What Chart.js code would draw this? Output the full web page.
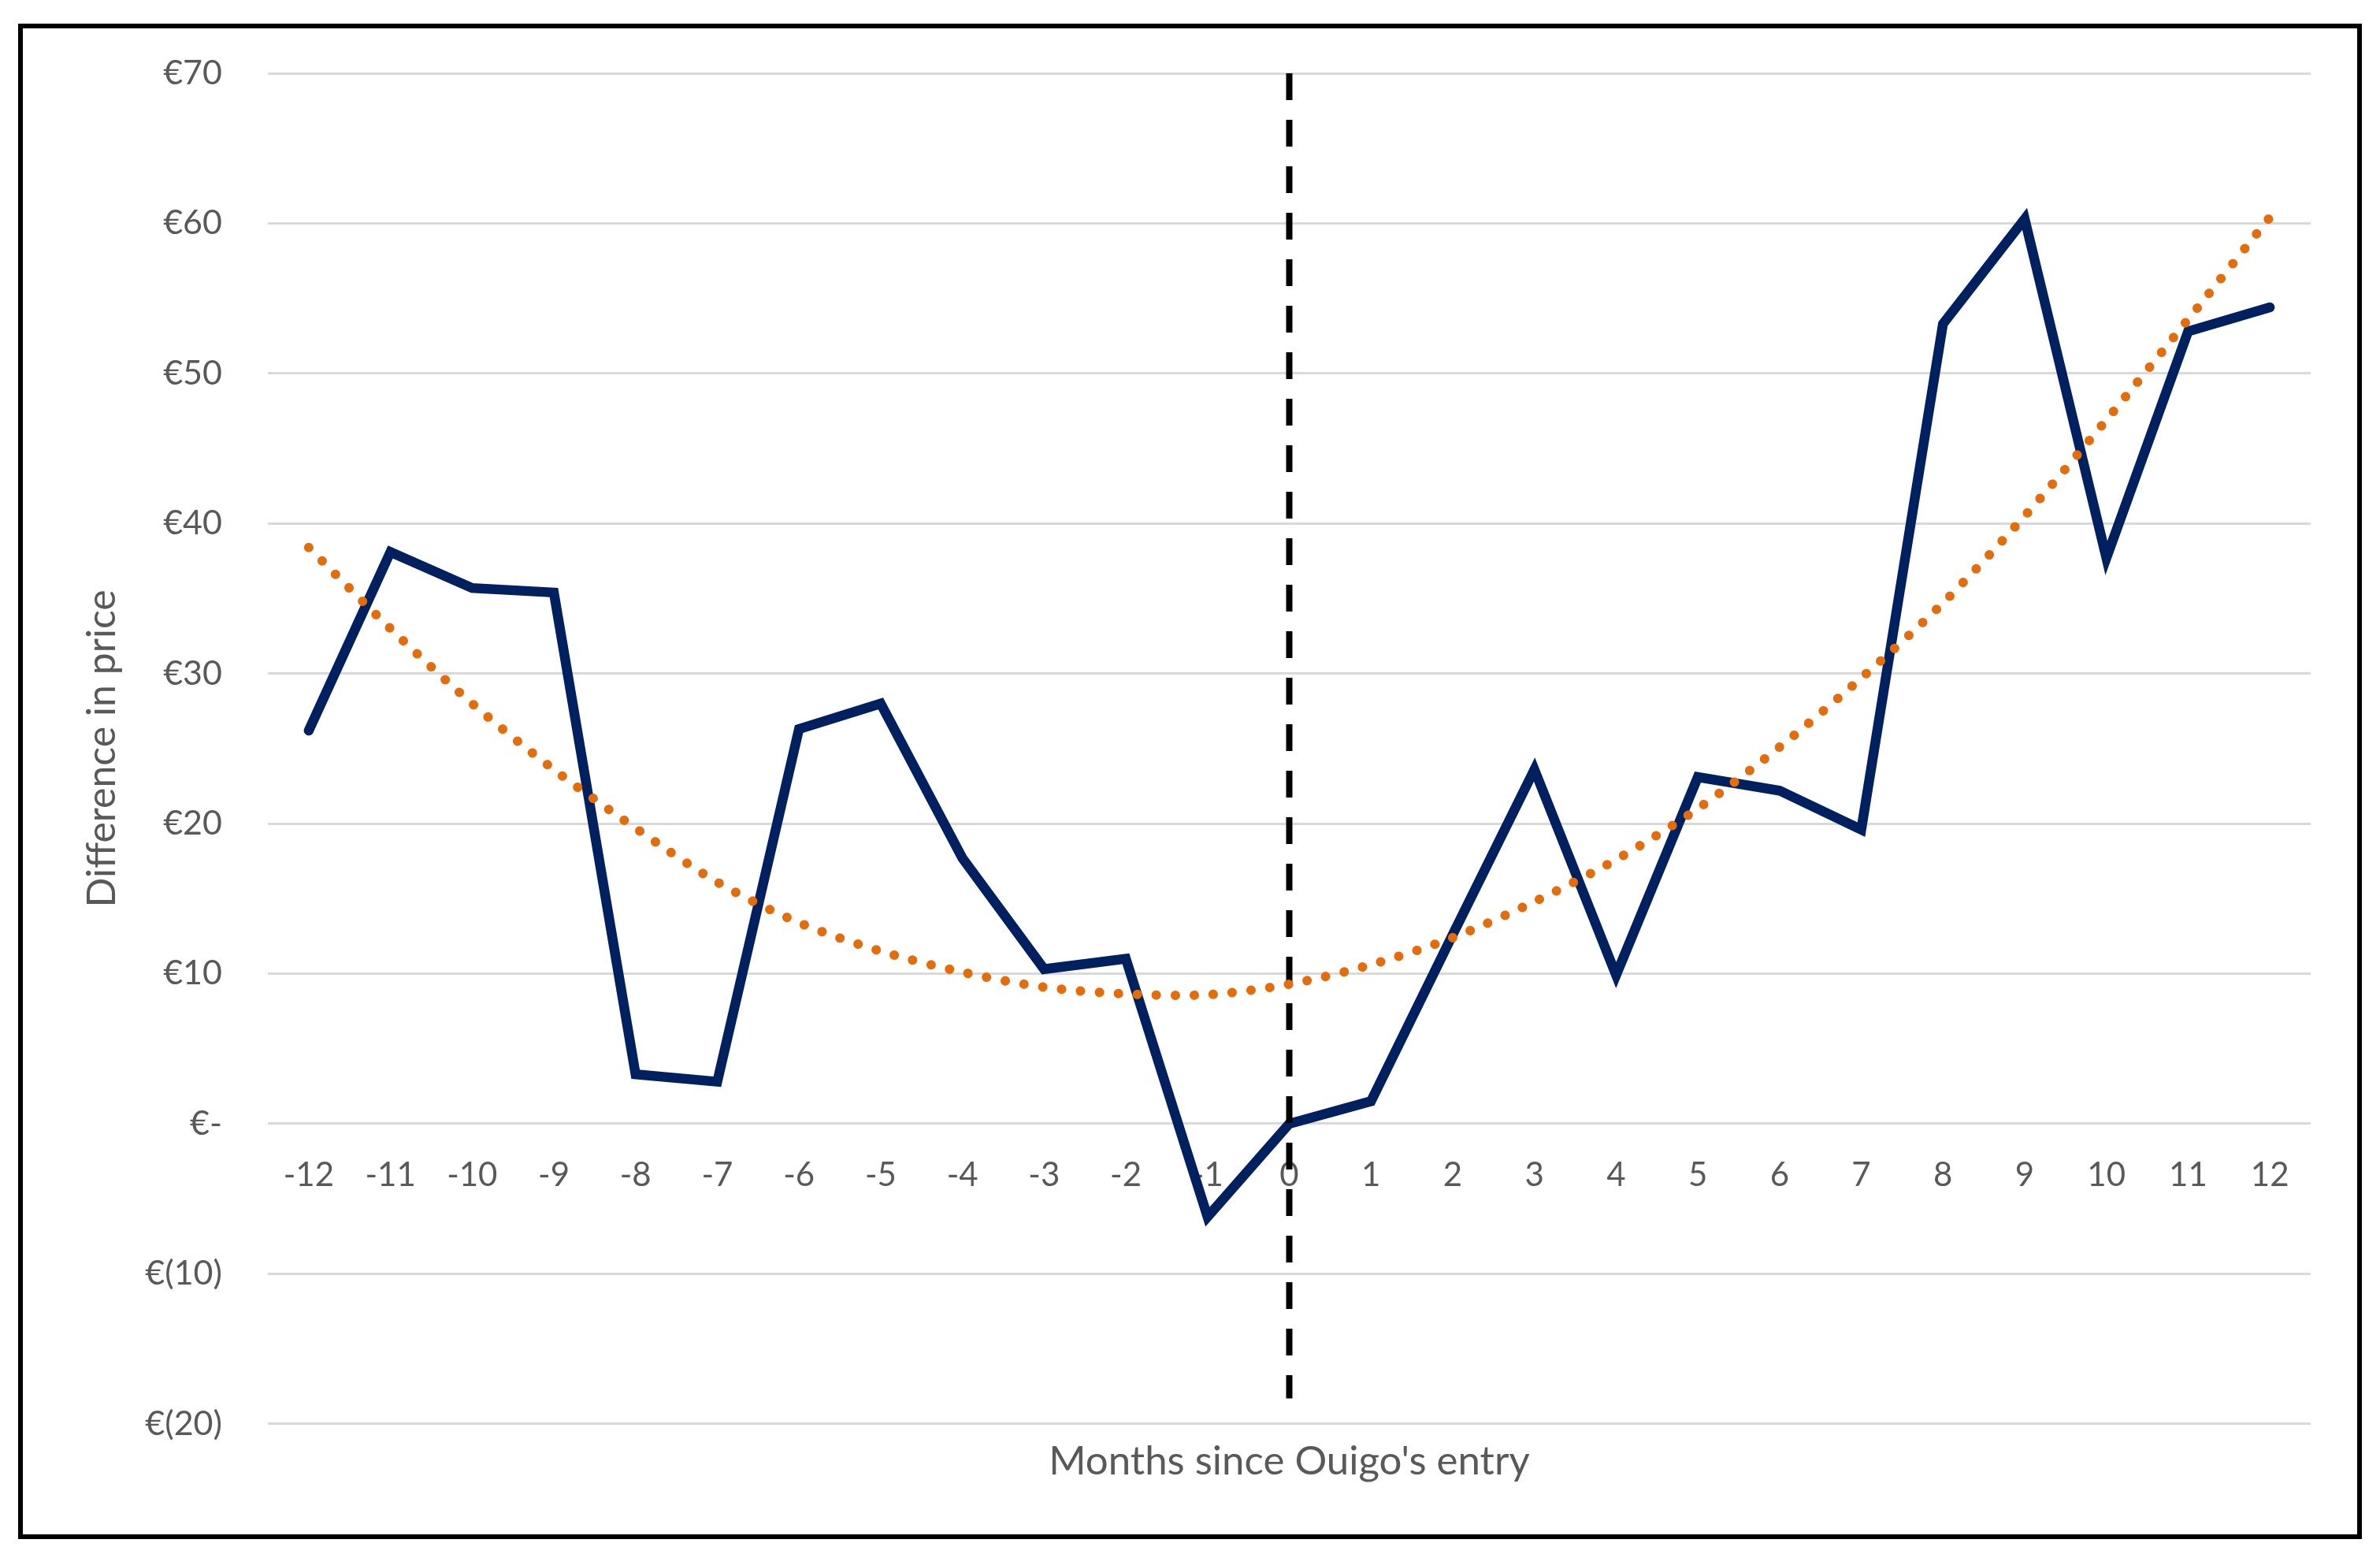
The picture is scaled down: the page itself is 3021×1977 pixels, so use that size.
<!DOCTYPE html>
<html>
<head>
<meta charset="utf-8">
<script src="https://cdn.jsdelivr.net/npm/chart.js@4.4.1/dist/chart.umd.min.js"></script>
<style>
    html, body { margin: 0; padding: 0; background: #ffffff; }
    #frame {
        position: absolute; left: 23px; top: 30px;
        width: 2975px; height: 1923px;
        border: 6px solid #000000; box-sizing: border-box;
    }
    #chart { position: absolute; left: 0; top: 0; }
</style>
</head>
<body>
<div id="frame"></div>
<canvas id="chart" width="3021" height="1977"></canvas>
<script>
const months = ['-12', '-11', '-10', '-9', '-8', '-7', '-6', '-5', '-4', '-3', '-2', '-1',
    '0', '1', '2', '3', '4', '5', '6', '7', '8', '9', '10', '11', '12'];

const priceDiff = [26.2, 38.1, 35.7, 35.4, 3.3, 2.8, 26.3, 28.0, 17.7, 10.3, 11.0, -6.2,
    0.0, 1.5, 12.6, 23.6, 9.9, 23.1, 22.2, 19.6, 53.3, 60.3, 37.7, 52.8, 54.4];

// polynomial trendline
const trendValues = [38.4, 33.0, 28.0, 23.6, 19.7, 16.1, 13.4, 11.5, 10.1, 9.1, 8.65, 8.6,
    9.3, 10.6, 12.4, 14.8, 17.6, 21.0, 25.1, 29.7, 34.7, 40.5, 46.9, 53.6, 60.4];

const entryMonth = '0';
const entryLineRange = [70, -18.3];

const yTickValues = [-20, -10, 0, 10, 20, 30, 40, 50, 60, 70];
const yTickLabels = ['€(20)', '€(10)', '€-', '€10', '€20', '€30', '€40', '€50', '€60', '€70'];

const fontFamily = 'Lato, "Open Sans", sans-serif';
const textGrey = '#595959';

const ctx = document.getElementById('chart').getContext('2d');
new Chart(ctx, {
    type: 'line',
    data: {
        labels: months,
        datasets: [
            {
                label: 'Trend',
                data: trendValues,
                borderColor: '#E46C0A',
                borderWidth: 12,
                borderDash: [0.1, 24],
                borderCapStyle: 'round',
                tension: 0.3,
                pointRadius: 0,
                order: 0
            },
            {
                label: 'Entry',
                data: entryLineRange.map(v => ({ x: entryMonth, y: v })),
                borderColor: '#000000',
                borderWidth: 8,
                borderDash: [34, 25],
                borderCapStyle: 'butt',
                pointRadius: 0,
                order: 1
            },
            {
                label: 'Difference in price',
                data: priceDiff,
                borderColor: '#002060',
                borderWidth: 12.5,
                borderCapStyle: 'round',
                borderJoinStyle: 'miter',
                tension: 0,
                pointRadius: 0,
                order: 2
            }
        ]
    },
    options: {
        responsive: false,
        animation: false,
        layout: {
            padding: { left: 0, right: 88, top: 93, bottom: 77 }
        },
        plugins: {
            legend: { display: false },
            tooltip: { enabled: false }
        },
        scales: {
            x: {
                type: 'category',
                position: { y: 0 },
                offset: true,
                grid: { display: false },
                border: { display: false },
                ticks: {
                    autoSkip: false,
                    maxRotation: 0,
                    padding: 32,
                    color: textGrey,
                    font: { family: fontFamily, size: 42 }
                }
            },
            x2: {
                type: 'category',
                axis: 'x',
                position: 'bottom',
                offset: true,
                grid: { display: false, drawTicks: false },
                border: { display: false },
                ticks: { display: false },
                title: {
                    display: true,
                    text: "Months since Ouigo's entry",
                    color: textGrey,
                    font: { family: fontFamily, size: 51 },
                    padding: { top: 17, bottom: 15 }
                }
            },
            y: {
                min: -20,
                max: 70,
                afterFit: (scale) => { scale.width = 340; },
                afterBuildTicks: (scale) => {
                    scale.ticks = yTickValues.map(v => ({ value: v }));
                },
                grid: {
                    color: '#D9D9D9',
                    lineWidth: 3,
                    drawTicks: false
                },
                border: { display: false },
                ticks: {
                    padding: 58,
                    color: textGrey,
                    font: { family: fontFamily, size: 43 },
                    callback: (value) => {
                        const i = yTickValues.indexOf(value);
                        return i >= 0 ? yTickLabels[i] : '';
                    }
                },
                title: {
                    display: true,
                    text: 'Difference in price',
                    color: textGrey,
                    font: { family: fontFamily, size: 50 },
                    padding: { top: 100, bottom: 0 }
                }
            }
        }
    }
});
</script>
</body>
</html>
